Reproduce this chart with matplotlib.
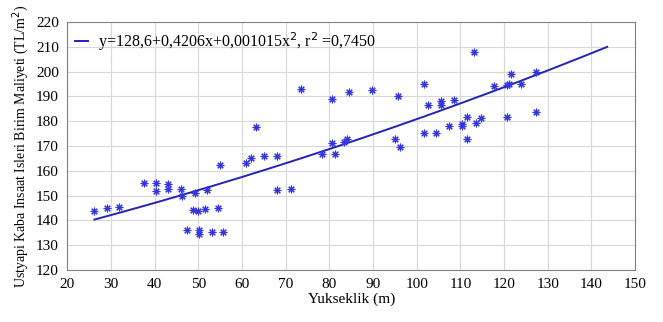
import numpy as np
import matplotlib.pyplot as plt

plt.rcParams['font.family'] = ['Liberation Serif', 'DejaVu Serif']

# olculen noktalar
yukseklik = [26.2, 29.1, 31.9, 37.5, 40.3, 40.3, 43.1, 43.1, 46.0, 46.3,
             47.3, 48.8, 49.2, 49.9, 50.2, 50.2, 51.6, 52.0, 53.1, 54.4,
             55.0, 55.7, 61.0, 62.1, 63.3, 65.1, 68.1, 68.1, 71.1, 73.4,
             78.4, 80.5, 80.6, 81.3, 83.4, 84.0, 84.6, 89.7, 95.1, 95.6,
             96.1, 101.6, 101.7, 102.6, 104.5, 105.5, 105.5, 107.4, 108.5, 110.4,
             110.4, 111.5, 111.5, 113.2, 113.6, 114.6, 117.7, 120.7, 121.1, 120.7,
             121.6, 123.8, 127.4, 127.4]
maliyet = [143.8, 144.8, 145.4, 155.0, 154.9, 151.9, 154.6, 152.7, 152.6, 149.9,
           136.2, 144.2, 151.0, 143.7, 136.2, 134.5, 144.5, 152.3, 135.2, 144.8,
           162.5, 135.2, 163.1, 165.2, 177.5, 166.1, 166.1, 152.3, 152.7, 192.8,
           166.8, 171.3, 189.0, 166.9, 171.6, 172.7, 191.9, 192.6, 173.0, 190.2,
           169.7, 195.1, 175.3, 186.6, 175.3, 188.2, 186.6, 178.0, 188.5, 178.8,
           178.0, 181.5, 172.9, 207.9, 179.3, 181.3, 194.3, 194.5, 194.8, 181.5,
           199.2, 194.8, 200.0, 183.6]

# regresyon katsayilari
a0, a1, a2 = 128.6, 0.4206, 0.001015
x_bas, x_son = 26.2, 143.6

fig = plt.figure(figsize=(6.63, 3.22), dpi=100)
ax = fig.add_axes([0.1015, 0.1615, 0.8565, 0.7705])

xf = np.linspace(x_bas, x_son, 200)
yf = a0 + a1 * xf + a2 * xf**2
ax.plot(xf, yf, color='#2323b4', lw=1.4,
        label='y=128,6+0,4206x+0,001015x$^2$, r$^2$ =0,7450')
ax.plot(yukseklik, maliyet, linestyle='none', marker=(8, 2, 0), ms=5.5,
        mew=0.8, color='#3535e0')

ax.set_xlim(20, 150)
ax.set_ylim(120, 220)
ax.set_xticks(np.arange(20, 151, 10))
ax.set_yticks(np.arange(120, 221, 10))
ax.grid(True, color='#d8d8d8', lw=0.8)
ax.set_axisbelow(True)
ax.tick_params(length=0, labelsize=11, pad=6)
for s in ax.spines.values():
    s.set_color('#808080')

ax.set_xlabel('Yukseklik (m)', fontsize=11, labelpad=1)
ax.set_ylabel('Ustyapi Kaba Insaat Isleri Birim Maliyeti (TL/m$^2$)', fontsize=10, labelpad=4)
ax.legend(loc='upper left', frameon=False, fontsize=11.5, handlelength=0.8,
          borderaxespad=0.2, handletextpad=0.65, borderpad=0.3)

fig.savefig('out.png', dpi=100)
